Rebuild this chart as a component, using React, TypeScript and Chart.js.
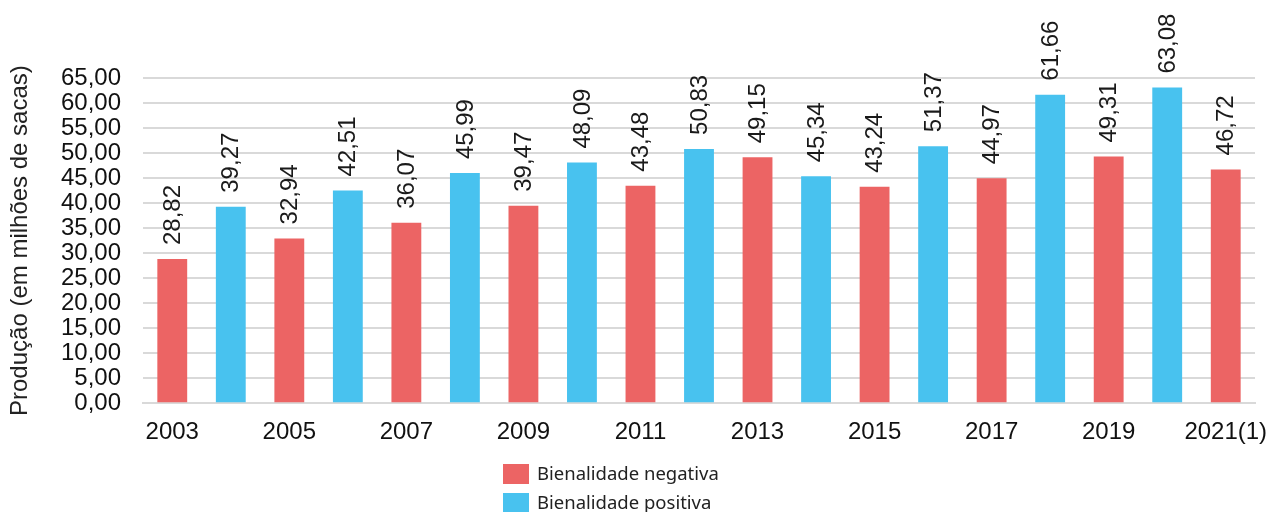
import React, { useEffect, useRef } from "react";
import { Chart, registerables } from "chart.js";

Chart.register(...registerables);

const years = ["2003","2004","2005","2006","2007","2008","2009","2010","2011","2012","2013","2014","2015","2016","2017","2018","2019","2020","2021(1)"];
const negativa = [28.82, null, 32.94, null, 36.07, null, 39.47, null, 43.48, null, 49.15, null, 43.24, null, 44.97, null, 49.31, null, 46.72];
const positiva = [null, 39.27, null, 42.51, null, 45.99, null, 48.09, null, 50.83, null, 45.34, null, 51.37, null, 61.66, null, 63.08, null];
const seriesNames = ["Bienalidade negativa", "Bienalidade positiva"];
const yTitle = "Produção (em milhões de sacas)";

const RED = "#ec6464";
const BLUE = "#48c2ef";
const FAMILY = "'Liberation Sans', Arial, sans-serif";

const fmt = (v: number) => v.toFixed(2).replace(".", ",");

const labelPlugin = {
  id: "rotLabels",
  afterDatasetsDraw(chart: any) {
    const ctx = chart.ctx;
    ctx.save();
    ctx.font = "24px " + FAMILY;
    ctx.fillStyle = "#1a1a1a";
    ctx.textAlign = "left";
    ctx.textBaseline = "middle";
    chart.data.datasets.forEach((ds: any, di: number) => {
      const meta = chart.getDatasetMeta(di);
      meta.data.forEach((bar: any, i: number) => {
        const v = ds.data[i];
        if (v == null) return;
        ctx.save();
        ctx.translate(bar.x + 1, bar.y - 14);
        ctx.rotate(-Math.PI / 2);
        ctx.fillText(fmt(v), 0, 0);
        ctx.restore();
      });
    });
    ctx.restore();
  },
};

const legendPlugin = {
  id: "vLegend",
  afterDraw(chart: any) {
    const ctx = chart.ctx;
    ctx.save();
    ctx.font = "18.5px 'Noto Sans', sans-serif";
    ctx.textBaseline = "middle";
    ctx.textAlign = "left";
    chart.data.datasets.forEach((ds: any, i: number) => {
      const y = 474 + i * 29;
      ctx.fillStyle = ds.backgroundColor;
      ctx.fillRect(503, y - 10, 26, 20);
      ctx.fillStyle = "#222";
      ctx.fillText(ds.label, 537, y + 1);
    });
    ctx.restore();
  },
};

export default function App() {
  const ref = useRef<HTMLCanvasElement>(null);
  useEffect(() => {
    document.body.style.margin = "0";
    const chart = new Chart(ref.current!, {
      type: "bar",
      data: {
        labels: years,
        datasets: [
          { label: seriesNames[0], data: negativa, backgroundColor: RED, grouped: false, barPercentage: 0.51, categoryPercentage: 1 } as any,
          { label: seriesNames[1], data: positiva, backgroundColor: BLUE, grouped: false, barPercentage: 0.51, categoryPercentage: 1 } as any,
        ],
      },
      options: {
        animation: false,
        responsive: false,
        layout: { padding: { top: 78, right: 16, bottom: 58, left: 0 } },
        plugins: { legend: { display: false }, tooltip: { enabled: false } },
        scales: {
          x: {
            afterFit: (s: any) => { s.paddingRight = 0; s.paddingLeft = 0; },
            grid: { display: false },
            border: { display: true, color: "#d9d9d9", width: 2 },
            ticks: {
              autoSkip: false,
              maxRotation: 0,
              padding: 7,
              color: "#111",
              font: { size: 24, family: FAMILY },
              callback: (_v: any, i: number) => (i % 2 === 0 ? years[i] : ""),
            },
          },
          y: {
            min: 0,
            max: 65,
            afterFit: (s: any) => { s.width = 143; },
            grid: { color: "#d9d9d9", lineWidth: 2, drawTicks: false },
            border: { display: false },
            ticks: {
              stepSize: 5,
              autoSkip: false,
              padding: 22,
              color: "#111",
              font: { size: 24, family: FAMILY },
              callback: (v: any) => fmt(Number(v)),
            },
            title: {
              display: true,
              text: yTitle,
              color: "#222",
              padding: { top: 6, bottom: 0 },
              font: { size: 24, family: FAMILY },
            },
          },
        },
      },
      plugins: [labelPlugin, legendPlugin],
    });
    return () => chart.destroy();
  }, []);
  return <canvas ref={ref} width={1271} height={512} style={{ display: "block" }} />;
}
